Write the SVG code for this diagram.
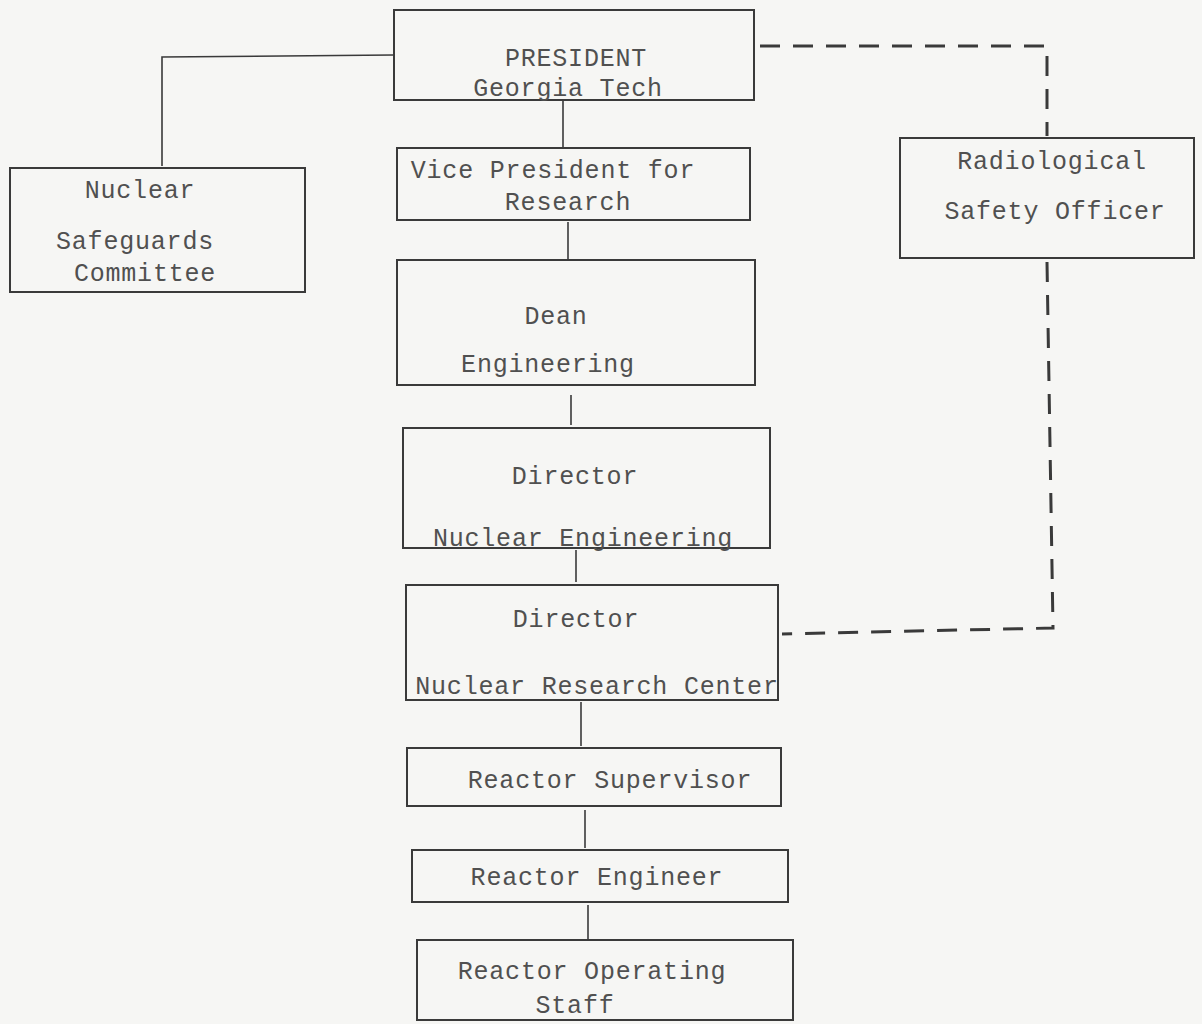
<svg xmlns="http://www.w3.org/2000/svg" width="1202" height="1024" viewBox="0 0 1202 1024">
<style>
.box{fill:none;stroke:#3a3a3a;stroke-width:2}
.ln{fill:none;stroke:#3a3a3a;stroke-width:1.6}
.dash{fill:none;stroke:#3a3a3a;stroke-width:3;stroke-dasharray:20 13}
text{font-family:"Liberation Mono","DejaVu Sans Mono",monospace;font-size:25px;fill:#505050;text-anchor:middle;letter-spacing:0.8px}
</style>
<rect width="1202" height="1024" fill="#f6f6f4"/>
<g id="connectors">
<polyline class="ln" points="393,55 162,57 162,166"/>
<line class="ln" x1="563" y1="100" x2="563" y2="148"/>
<line class="ln" x1="568" y1="222" x2="568" y2="260"/>
<line class="ln" x1="571" y1="395" x2="571" y2="425"/>
<line class="ln" x1="576" y1="550" x2="576" y2="582"/>
<line class="ln" x1="581" y1="702" x2="581" y2="746"/>
<line class="ln" x1="585" y1="810" x2="585" y2="848"/>
<line class="ln" x1="588" y1="905" x2="588" y2="940"/>
<polyline class="dash" points="760,46 1047,46 1047,136"/>
<polyline class="dash" points="1047,262 1053,628 782,634"/>
</g>
<g id="president"><rect class="box" x="394" y="10" width="360" height="90"/><text x="576" y="66">PRESIDENT</text><text x="568" y="96">Georgia Tech</text></g>
<g id="vp"><rect class="box" x="397" y="148" width="353" height="72"/><text x="553" y="178">Vice President for</text><text x="568" y="210">Research</text></g>
<g id="nsc"><rect class="box" x="10" y="168" width="295" height="124"/><text x="140" y="198">Nuclear</text><text x="135" y="249">Safeguards</text><text x="145" y="281">Committee</text></g>
<g id="rso"><rect class="box" x="900" y="138" width="294" height="120"/><text x="1052" y="169">Radiological</text><text x="1055" y="219">Safety Officer</text></g>
<g id="dean"><rect class="box" x="397" y="260" width="358" height="125"/><text x="556" y="324">Dean</text><text x="548" y="372">Engineering</text></g>
<g id="dir-ne"><rect class="box" x="403" y="428" width="367" height="120"/><text x="575" y="484">Director</text><text x="583" y="546">Nuclear Engineering</text></g>
<g id="dir-nrc"><rect class="box" x="406" y="585" width="372" height="115"/><text x="576" y="627">Director</text><text x="597" y="694">Nuclear Research Center</text></g>
<g id="supervisor"><rect class="box" x="407" y="748" width="374" height="58"/><text x="610" y="788">Reactor Supervisor</text></g>
<g id="engineer"><rect class="box" x="412" y="850" width="376" height="52"/><text x="597" y="885">Reactor Engineer</text></g>
<g id="staff"><rect class="box" x="417" y="940" width="376" height="80"/><text x="592" y="979">Reactor Operating</text><text x="575" y="1013">Staff</text></g>
</svg>
